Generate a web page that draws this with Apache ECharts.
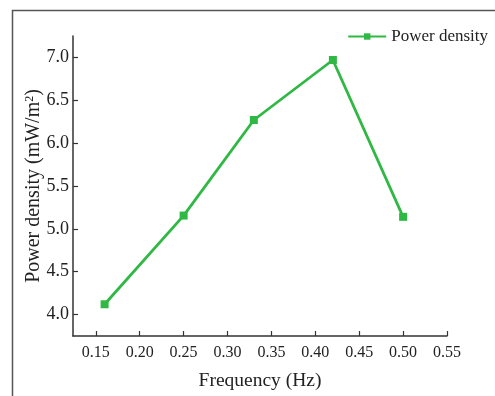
<!DOCTYPE html>
<html>
<head>
<meta charset="utf-8">
<script src="https://cdn.jsdelivr.net/npm/echarts@6/dist/echarts.min.js"></script>
<style>
  html, body { margin: 0; padding: 0; background: #fff; }
  #chart { width: 495px; height: 396px; }
</style>
</head>
<body>
<div id="chart"></div>
<script>
// data
const frequency = [0.16, 0.25, 0.33, 0.42, 0.50];
const powerDensity = [4.12, 5.155, 6.27, 6.97, 5.14];
const xTicks = [0.15, 0.20, 0.25, 0.30, 0.35, 0.40, 0.45, 0.50, 0.55];
const yTicks = [4.0, 4.5, 5.0, 5.5, 6.0, 6.5, 7.0];

const green = '#2fb843';
const ink = '#222';
const serif = '"Liberation Serif", "DejaVu Serif", serif';

const chart = echarts.init(document.getElementById('chart'));
chart.setOption({
  animation: false,
  textStyle: { fontFamily: serif },
  graphic: [{
    type: 'polyline',
    shape: { points: [[12.5, 396], [12.5, 10.5], [495, 10.5]] },
    style: { stroke: '#555', lineWidth: 1.5, fill: null }
  }],
  grid: { left: 73, right: 48, top: 36, bottom: 60 },
  legend: {
    right: 2,
    top: 23,
    itemWidth: 38,
    itemHeight: 8,
    itemGap: 2,
    textStyle: { fontFamily: serif, fontSize: 17, color: ink },
    data: ['Power density']
  },
  xAxis: {
    type: 'value',
    min: 0.124,
    max: 0.55,
    name: 'Frequency (Hz)',
    nameLocation: 'middle',
    nameGap: 35,
    nameMoveOverlap: false,
    nameTextStyle: { fontFamily: serif, fontSize: 19.5, color: ink },
    splitLine: { show: false },
    axisLine: { lineStyle: { color: '#333', width: 1.5 } },
    axisTick: { inside: true, length: 5, customValues: xTicks, lineStyle: { color: '#333', width: 1.2 } },
    axisLabel: {
      customValues: xTicks,
      margin: 9,
      fontSize: 16,
      color: ink,
      fontFamily: serif,
      formatter: v => v.toFixed(2)
    }
  },
  yAxis: {
    type: 'value',
    min: 3.75,
    max: 7.25,
    name: '{a|Power density (mW/m}{s|2}{a|)}',
    nameLocation: 'middle',
    nameGap: 29,
    nameMoveOverlap: false,
    nameRotate: 90,
    nameTextStyle: {
      rich: {
        a: { fontFamily: serif, fontSize: 20, color: ink },
        s: { fontFamily: serif, fontSize: 12, color: ink, verticalAlign: 'top' }
      }
    },
    splitLine: { show: false },
    axisLine: { show: true, lineStyle: { color: '#333', width: 1.5 } },
    axisTick: { show: true, inside: true, length: 5, customValues: yTicks, lineStyle: { color: '#333', width: 1.2 } },
    axisLabel: {
      customValues: yTicks,
      margin: 4,
      fontSize: 18,
      color: ink,
      fontFamily: serif,
      formatter: v => v.toFixed(1)
    }
  },
  series: [{
    name: 'Power density',
    type: 'line',
    data: frequency.map((f, i) => [f, powerDensity[i]]),
    symbol: 'rect',
    symbolSize: 8,
    lineStyle: { color: green, width: 2.8 },
    itemStyle: { color: green }
  }]
});
</script>
</body>
</html>
